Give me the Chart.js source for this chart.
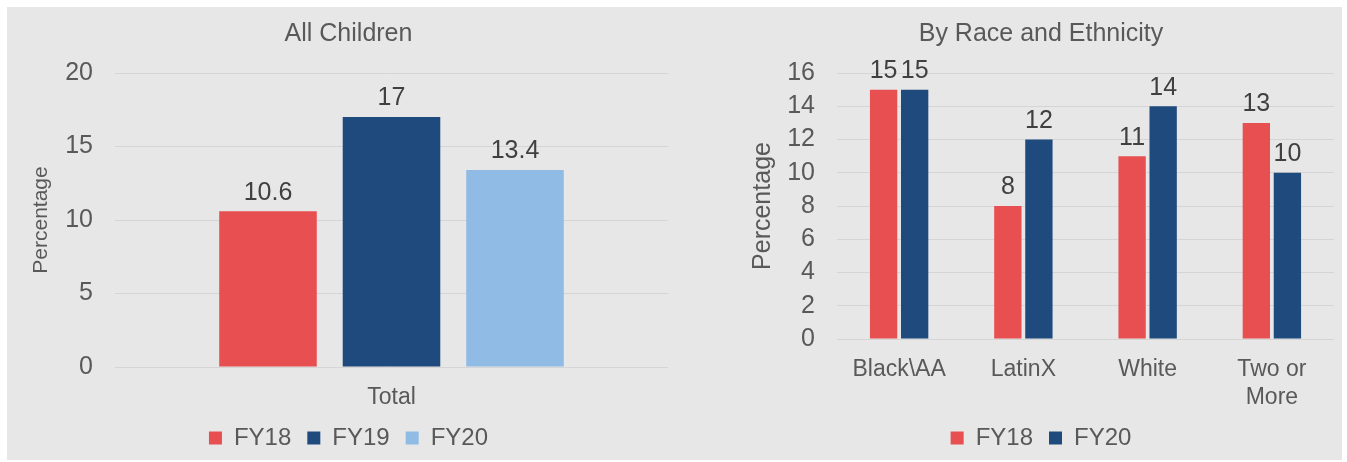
<!DOCTYPE html>
<html>
<head>
<meta charset="utf-8">
<script src="https://cdn.jsdelivr.net/npm/chart.js@4.4.1/dist/chart.umd.min.js"></script>
<style>
    html, body { margin: 0; padding: 0; background: #ffffff; }
    #frame {
        position: absolute; left: 7px; top: 7px;
        width: 1335px; height: 453px; background: #e7e7e7;
    }
    .panel { position: absolute; top: 0; height: 453px; }
    #left-panel { left: 0; width: 666px; }
    #right-panel { left: 666px; width: 669px; }
</style>
</head>
<body>
<div id="frame">
    <div class="panel" id="left-panel"><canvas id="all-children-canvas"></canvas></div>
    <div class="panel" id="right-panel"><canvas id="race-canvas"></canvas></div>
</div>
<script>
/* ============================================================
   DATA
   ============================================================ */

const totalCategories = ["Total"];
const totalFY18 = [10.6];
const totalFY19 = [17];
const totalFY20 = [13.4];

const raceCategories = ["Black\\AA", "LatinX", "White", ["Two or", "More"]];
const raceFY18 = [15, 8, 11, 13];
const raceFY20 = [15, 12, 14, 10];

/* ============================================================
   STYLE
   ============================================================ */

const FONT = "'Liberation Sans', Arial, sans-serif";
const TEXT_GREY = "#595959";
const LABEL_GREY = "#404040";
const GRID_GREY = "#d5d5d5";

const RED = "#e84f51";
const NAVY = "#1f4a7e";
const LIGHT_BLUE = "#8fbbe4";

Chart.defaults.font.family = FONT;
Chart.defaults.color = TEXT_GREY;

// Value labels above each bar (no datalabels plugin available)
const valueLabels = {
    id: "valueLabels",
    afterDatasetsDraw(chart) {
        const ctx = chart.ctx;
        ctx.save();
        ctx.font = "25px " + FONT;
        ctx.fillStyle = LABEL_GREY;
        ctx.textAlign = "center";
        ctx.textBaseline = "bottom";
        chart.data.datasets.forEach((ds, i) => {
            const meta = chart.getDatasetMeta(i);
            meta.data.forEach((bar, j) => {
                ctx.fillText(String(ds.data[j]), bar.x, bar.y - 6);
            });
        });
        ctx.restore();
    }
};

function buildOptions(cfg) {
    return {
        responsive: true,
        maintainAspectRatio: false,
        animation: false,
        layout: { padding: { left: cfg.padLeft, right: cfg.padRight, top: 0, bottom: 0 } },
        datasets: { bar: { categoryPercentage: cfg.catPct, barPercentage: cfg.barPct } },
        scales: {
            x: {
                afterFit(scale) { scale.height = cfg.xAxisHeight; },
                grid: { display: false },
                border: { display: false },
                ticks: { font: { size: 23 }, color: TEXT_GREY, padding: 9 }
            },
            y: {
                min: 0,
                max: cfg.yMax,
                afterFit(scale) { scale.width = cfg.yAxisWidth; },
                ticks: { stepSize: cfg.yStep, font: { size: 25 }, color: TEXT_GREY, padding: 22 },
                grid: { color: GRID_GREY, lineWidth: 1, drawTicks: false },
                border: { display: false },
                title: {
                    display: true,
                    text: "Percentage",
                    font: { size: cfg.yTitleSize },
                    color: TEXT_GREY,
                    padding: 0
                }
            }
        },
        plugins: {
            title: {
                display: true,
                text: cfg.title,
                font: { size: 25, weight: "normal" },
                color: TEXT_GREY,
                padding: { top: 12, bottom: 24 }
            },
            legend: {
                position: "bottom",
                labels: {
                    boxWidth: 13,
                    boxHeight: 13,
                    font: { size: 24 },
                    color: TEXT_GREY,
                    padding: 16
                }
            },
            tooltip: { enabled: false }
        }
    };
}

/* ============================================================
   ALL CHILDREN
   ============================================================ */

new Chart(document.getElementById("all-children-canvas"), {
    type: "bar",
    data: {
        labels: totalCategories,
        datasets: [
            { label: "FY18", data: totalFY18, backgroundColor: RED },
            { label: "FY19", data: totalFY19, backgroundColor: NAVY },
            { label: "FY20", data: totalFY20, backgroundColor: LIGHT_BLUE }
        ]
    },
    options: buildOptions({
        title: "All Children", yMax: 20, yStep: 5, yTitleSize: 21,
        padLeft: 22, padRight: 5, yAxisWidth: 86, xAxisHeight: 43,
        catPct: 0.67, barPct: 0.79
    }),
    plugins: [valueLabels]
});

/* ============================================================
   BY RACE AND ETHNICITY
   ============================================================ */

new Chart(document.getElementById("race-canvas"), {
    type: "bar",
    data: {
        labels: raceCategories,
        datasets: [
            { label: "FY18", data: raceFY18, backgroundColor: RED },
            { label: "FY20", data: raceFY20, backgroundColor: NAVY }
        ]
    },
    options: buildOptions({
        title: "By Race and Ethnicity", yMax: 16, yStep: 2, yTitleSize: 25,
        padLeft: 75, padRight: 8, yAxisWidth: 89, xAxisHeight: 71,
        catPct: 0.5, barPct: 0.88
    }),
    plugins: [valueLabels]
});
</script>
</body>
</html>
